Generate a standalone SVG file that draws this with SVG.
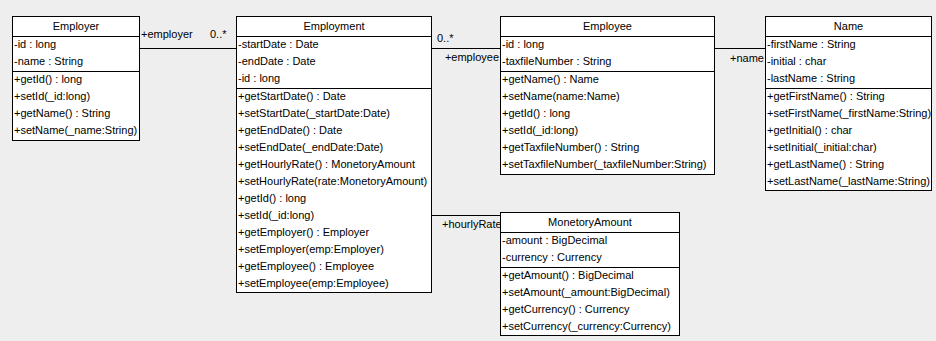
<svg xmlns="http://www.w3.org/2000/svg" width="936" height="341" viewBox="0 0 936 341">
<style>
.bg{fill:#eeeeee}
.box{fill:#ffffff;stroke:#000000;stroke-width:1}
.ln{stroke:#000000;stroke-width:1;fill:none}
text{font-family:"Liberation Sans",Arial,sans-serif;font-size:11px;fill:#000000}
.t{text-anchor:middle}
.e{text-anchor:end}
</style>
<rect class="bg" x="0" y="0" width="936" height="341"/>
<g id="connectors">
<line class="ln" x1="139.5" y1="48.5" x2="236.5" y2="48.5"/>
<text x="141" y="38">+employer</text>
<text x="210" y="38">0..*</text>
<line class="ln" x1="431.5" y1="48.5" x2="500.5" y2="48.5"/>
<text x="437" y="42">0..*</text>
<text class="e" x="499" y="61">+employee</text>
<line class="ln" x1="714.5" y1="48.5" x2="765.5" y2="48.5"/>
<text class="e" x="764" y="62">+name</text>
<line class="ln" x1="431.5" y1="215.5" x2="500.5" y2="215.5"/>
<text x="442" y="228">+hourlyRate</text>
</g>
<g id="employer">
<rect class="box" x="12.5" y="16.5" width="127" height="124"/>
<line class="ln" x1="12.5" y1="36.5" x2="139.5" y2="36.5"/>
<line class="ln" x1="12.5" y1="71.5" x2="139.5" y2="71.5"/>
<text class="t" x="76" y="30">Employer</text>
<text x="14" y="48">-id : long</text>
<text x="14" y="65">-name : String</text>
<text x="14" y="83">+getId() : long</text>
<text x="14" y="100">+setId(_id:long)</text>
<text x="14" y="117">+getName() : String</text>
<text x="14" y="134">+setName(_name:String)</text>
</g>
<g id="employment">
<rect class="box" x="236.5" y="16.5" width="195" height="276"/>
<line class="ln" x1="236.5" y1="36.5" x2="431.5" y2="36.5"/>
<line class="ln" x1="236.5" y1="88.5" x2="431.5" y2="88.5"/>
<text class="t" x="334" y="30">Employment</text>
<text x="238" y="48">-startDate : Date</text>
<text x="238" y="65">-endDate : Date</text>
<text x="238" y="82">-id : long</text>
<text x="238" y="100">+getStartDate() : Date</text>
<text x="238" y="117">+setStartDate(_startDate:Date)</text>
<text x="238" y="134">+getEndDate() : Date</text>
<text x="238" y="151">+setEndDate(_endDate:Date)</text>
<text x="238" y="168">+getHourlyRate() : MonetoryAmount</text>
<text x="238" y="185">+setHourlyRate(rate:MonetoryAmount)</text>
<text x="238" y="202">+getId() : long</text>
<text x="238" y="219">+setId(_id:long)</text>
<text x="238" y="236">+getEmployer() : Employer</text>
<text x="238" y="253">+setEmployer(emp:Employer)</text>
<text x="238" y="270">+getEmployee() : Employee</text>
<text x="238" y="287">+setEmployee(emp:Employee)</text>
</g>
<g id="employee">
<rect class="box" x="500.5" y="16.5" width="214" height="158"/>
<line class="ln" x1="500.5" y1="36.5" x2="714.5" y2="36.5"/>
<line class="ln" x1="500.5" y1="71.5" x2="714.5" y2="71.5"/>
<text class="t" x="607.5" y="30">Employee</text>
<text x="502" y="48">-id : long</text>
<text x="502" y="65">-taxfileNumber : String</text>
<text x="502" y="83">+getName() : Name</text>
<text x="502" y="100">+setName(name:Name)</text>
<text x="502" y="117">+getId() : long</text>
<text x="502" y="134">+setId(_id:long)</text>
<text x="502" y="151">+getTaxfileNumber() : String</text>
<text x="502" y="168">+setTaxfileNumber(_taxfileNumber:String)</text>
</g>
<g id="name">
<rect class="box" x="765.5" y="16.5" width="166" height="174"/>
<line class="ln" x1="765.5" y1="36.5" x2="931.5" y2="36.5"/>
<line class="ln" x1="765.5" y1="88.5" x2="931.5" y2="88.5"/>
<text class="t" x="848.5" y="30">Name</text>
<text x="767" y="48">-firstName : String</text>
<text x="767" y="65">-initial : char</text>
<text x="767" y="82">-lastName : String</text>
<text x="767" y="100">+getFirstName() : String</text>
<text x="767" y="117">+setFirstName(_firstName:String)</text>
<text x="767" y="134">+getInitial() : char</text>
<text x="767" y="151">+setInitial(_initial:char)</text>
<text x="767" y="168">+getLastName() : String</text>
<text x="767" y="185">+setLastName(_lastName:String)</text>
</g>
<g id="monetoryamount">
<rect class="box" x="500.5" y="212.5" width="179" height="123"/>
<line class="ln" x1="500.5" y1="232.5" x2="679.5" y2="232.5"/>
<line class="ln" x1="500.5" y1="267.5" x2="679.5" y2="267.5"/>
<text class="t" x="590" y="226">MonetoryAmount</text>
<text x="502" y="244">-amount : BigDecimal</text>
<text x="502" y="261">-currency : Currency</text>
<text x="502" y="279">+getAmount() : BigDecimal</text>
<text x="502" y="296">+setAmount(_amount:BigDecimal)</text>
<text x="502" y="313">+getCurrency() : Currency</text>
<text x="502" y="330">+setCurrency(_currency:Currency)</text>
</g>
</svg>
